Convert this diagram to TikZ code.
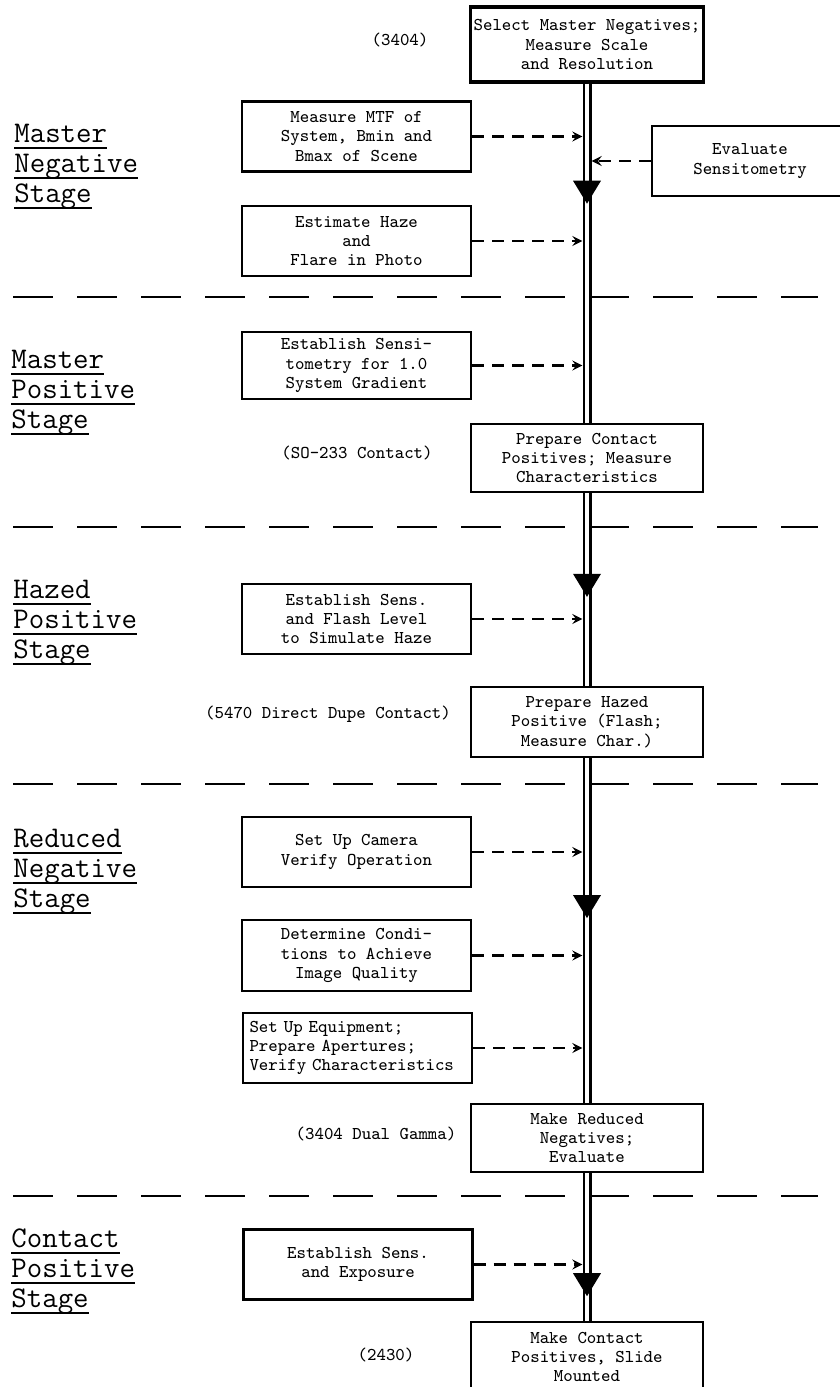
\documentclass[tikz,border=0pt]{standalone}
\usepackage{fontspec}
\usetikzlibrary{calc}
\newcommand{\StageWord}[1]{\setbox0=\hbox{#1}\rlap{\rule[-3.5pt]{\wd0}{1pt}}\box0}
\newcommand{\FlowHead}[1]{\fill (#1)--++(-14,-23)--++(28,0)--cycle;}
\tikzset{
  stepbox/.style={draw,line width=1.1pt,fill=white,minimum height=35pt,inner sep=1.5pt,align=center,font=\ttfamily\fontsize{9}{9.7}\selectfont},
  leftbox/.style={stepbox,minimum width=114.5pt},
  mainbox/.style={stepbox,minimum width=116pt},
  film/.style={font=\ttfamily\fontsize{9}{9.7}\selectfont},
  stage/.style={anchor=base west,align=left,inner sep=0pt,font=\ttfamily\fontsize{15}{15}\selectfont},
  feed/.style={->,line width=1.2pt,dash pattern=on 6pt off 4pt,shorten >=2.3pt},
  spine/.style={double,double distance=1.9pt,line width=1.3pt},
  divider/.style={line width=1pt,dash pattern=on 20pt off 12pt}
}
\begin{document}
\begin{tikzpicture}[x=0.5pt,y=-0.5pt,>=stealth]
  \useasboundingbox(0,0)rectangle(840,1387);
  \clip(0,0)rectangle(840,1387);
  % main column
  \node[mainbox,line width=1.6pt,minimum height=37.5pt](top)at(587,44.5){Select Master Negatives;\\Measure Scale\\and Resolution};
  \node[mainbox,minimum height=34pt](pcontact)at(587,458){Prepare Contact\\Positives; Measure\\Characteristics};
  \node[mainbox](phazed)at(587,722){Prepare Hazed\\Positive (Flash;\\Measure Char.)};
  \node[mainbox,minimum height=34pt](mreduced)at(587,1138){Make Reduced\\Negatives;\\Evaluate};
  \node[mainbox](mcontact)at(587,1357){Make Contact\\Positives, Slide\\Mounted};
  % side steps
  \node[leftbox](mtf)at(356.5,136.5){Measure MTF of\\System, Bmin and\\Bmax of Scene};
  \node[leftbox](haze)at(356.5,241){Estimate Haze\\and\\Flare in Photo};
  \node[leftbox,minimum height=33.5pt](sensi)at(356.5,365.5){Establish Sensi-\\tometry for 1.0\\System Gradient};
  \node[leftbox](flash)at(356.5,619){Establish Sens.\\and Flash Level\\to Simulate Haze};
  \node[leftbox](camera)at(356.5,852){Set Up Camera\\Verify Operation};
  \node[leftbox,minimum height=35.5pt](cond)at(356.5,955.5){Determine Condi-\\tions to Achieve\\Image Quality};
  \node[leftbox,align=left,text width=108pt](equip)at(357.5,1048){Set Up Equipment;\\Prepare Apertures;\\Verify Characteristics};
  \node[leftbox](expo)at(358,1264.5){Establish Sens.\\and Exposure};
  \node[stepbox,minimum width=98pt](eval)at(750,161){Evaluate\\Sensitometry};
  % film types
  \node[film](f3404)at(400,40){(3404)};
  \node[film](fso)at(357,453){(SO-233 Contact)};
  \node[film](f5470)at(328,714){(5470 Direct Dupe Contact)};
  \node[film](fdual)at(376,1134){(3404 Dual Gamma)};
  \node[film](f2430)at(386,1355){(2430)};
  % stages
  \node[stage](sg1)at(14,202){\StageWord{Master}\\\StageWord{Negative}\\\StageWord{Stage}};
  \node[stage](sg2)at(11,428){\StageWord{Master}\\\StageWord{Positive}\\\StageWord{Stage}};
  \node[stage](sg3)at(13,658){\StageWord{Hazed}\\\StageWord{Positive}\\\StageWord{Stage}};
  \node[stage](sg4)at(13,907){\StageWord{Reduced}\\\StageWord{Negative}\\\StageWord{Stage}};
  \node[stage](sg5)at(11,1307){\StageWord{Contact}\\\StageWord{Positive}\\\StageWord{Stage}};
  \foreach \y in {297,527,784,1196}
  {
    \draw[divider](13,\y)--(818,\y);
  }
  % flow
  \draw[spine](top)--coordinate[pos=0.354](h1)(pcontact);
  \draw[spine](pcontact)--coordinate[pos=0.538](h2)(phazed);
  \draw[spine](phazed)--coordinate[pos=0.464](h3)(mreduced);
  \draw[spine](mreduced)--coordinate[pos=0.833](h4)(mcontact);
  \FlowHead{h1}
  \FlowHead{h2}
  \FlowHead{h3}
  \FlowHead{h4}
  \foreach \b in {mtf,haze,sensi,flash,camera,cond,equip,expo}
  {
    \draw[feed](\b.east)--(\b.east-|top.south);
  }
  \draw[feed](eval.west)--(eval.west-|top.south);
\end{tikzpicture}
\end{document}
